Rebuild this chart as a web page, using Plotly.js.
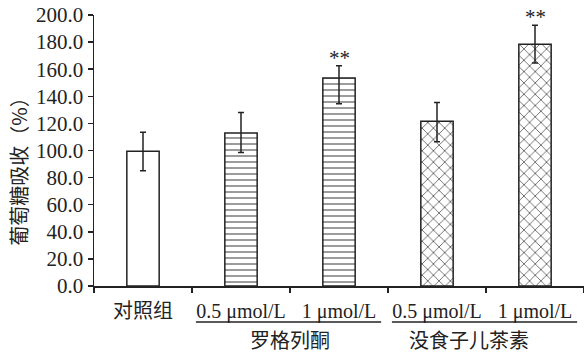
<!DOCTYPE html>
<html>
<head>
<meta charset="utf-8">
<script src="https://cdn.plot.ly/plotly-3.0.1.min.js"></script>
<style>html,body{margin:0;padding:0;background:#fff;}#chart{width:584px;height:356px;}</style>
</head>
<body>
<div id="chart"></div>
<script>
// Data
const categories = ["对照组", "0.5 μmol/L", "1 μmol/L", "0.5 μmol/L", "1 μmol/L"];
const values = [99.5, 113, 153.5, 121.5, 178.5];
const errorsPlus = [14, 15, 9, 14, 14];
const errorsMinus = [14.5, 14.5, 19, 15, 14];
const significance = ["", "", "**", "", "**"];
const patterns = ["", "-", "-", "x", "x"];
const patternSizes = [6, 6, 6, 8, 8];
const groupNames = ["罗格列酮", "没食子儿茶素"];
const groupStart = [1, 3];
const groupEnd = [2, 4];
const yTicks = [0, 20, 40, 60, 80, 100, 120, 140, 160, 180, 200];
const yTitle = "葡萄糖吸收（%）";

const xIdx = categories.map((_, i) => i);
const serif = "Liberation Serif, Times New Roman, serif";
const cjk = "Noto Sans CJK SC, sans-serif";

const trace = {
  type: "bar",
  x: xIdx,
  y: values,
  width: 0.33,
  marker: {
    color: "#ffffff",
    line: {color: "#222", width: 1.5},
    pattern: {
      shape: patterns,
      size: patternSizes,
      solidity: 0.15,
      fgcolor: "#222",
      bgcolor: "#ffffff",
      fillmode: "replace"
    }
  },
  error_y: {type: "data", symmetric: false, array: errorsPlus, arrayminus: errorsMinus, visible: true, color: "#222", thickness: 1.5, width: 3},
  hoverinfo: "none"
};

const annotations = [];
significance.forEach((s, i) => {
  if (s) annotations.push({
    x: i, y: values[i] + errorsPlus[i], xref: "x", yref: "y",
    text: s, showarrow: false, yanchor: "bottom", yshift: -6,
    font: {family: serif, size: 21, color: "#222"}
  });
});
const groupLabelShift = [0, -17];
const shapes = [];
groupNames.forEach((g, k) => {
  shapes.push({
    type: "line", xref: "x", yref: "paper",
    x0: groupStart[k] - 0.46, x1: groupEnd[k] + 0.43,
    y0: -0.133, y1: -0.133,
    line: {color: "#222", width: 1.5}
  });
  annotations.push({
    x: (groupStart[k] + groupEnd[k]) / 2, y: -0.199, xref: "x", yref: "paper",
    text: g, showarrow: false, xanchor: "center", yanchor: "middle",
    xshift: groupLabelShift[k],
    font: {family: cjk, size: 20, color: "#222"}
  });
});
annotations.push({
  x: 0, y: 0.44, xref: "paper", yref: "paper", xshift: -75,
  text: yTitle, textangle: -90, showarrow: false,
  xanchor: "center", yanchor: "middle",
  font: {family: cjk, size: 20, color: "#222"}
});

const layout = {
  width: 584, height: 356,
  margin: {l: 94, r: 0, t: 15, b: 70},
  paper_bgcolor: "#fff", plot_bgcolor: "#fff",
  showlegend: false,
  xaxis: {
    type: "linear",
    range: [-0.5, 4.5],
    tickmode: "array",
    tickvals: xIdx,
    ticktext: categories,
    ticks: "",
    showgrid: false, zeroline: false,
    showline: true, linecolor: "#222", linewidth: 1.5,
    tickfont: {family: serif + ", " + cjk, size: 20, color: "#222"},
    minor: {tickmode: "linear", tick0: -0.5, dtick: 1, ticks: "outside", ticklen: 5, tickwidth: 1.5, tickcolor: "#222", showgrid: false},
    ticklabelstandoff: 6
  },
  yaxis: {
    range: [0, 200],
    tickmode: "array",
    tickvals: yTicks,
    ticktext: yTicks.map(v => v.toFixed(1)),
    ticks: "outside", ticklen: 5, tickwidth: 1.5, tickcolor: "#222",
    showgrid: false, zeroline: false,
    showline: true, linecolor: "#222", linewidth: 1.5,
    tickfont: {family: serif, size: 21, color: "#222"}
  },
  shapes: shapes,
  annotations: annotations
};

Plotly.newPlot("chart", [trace], layout, {staticPlot: true, displayModeBar: false});
</script>
</body>
</html>
